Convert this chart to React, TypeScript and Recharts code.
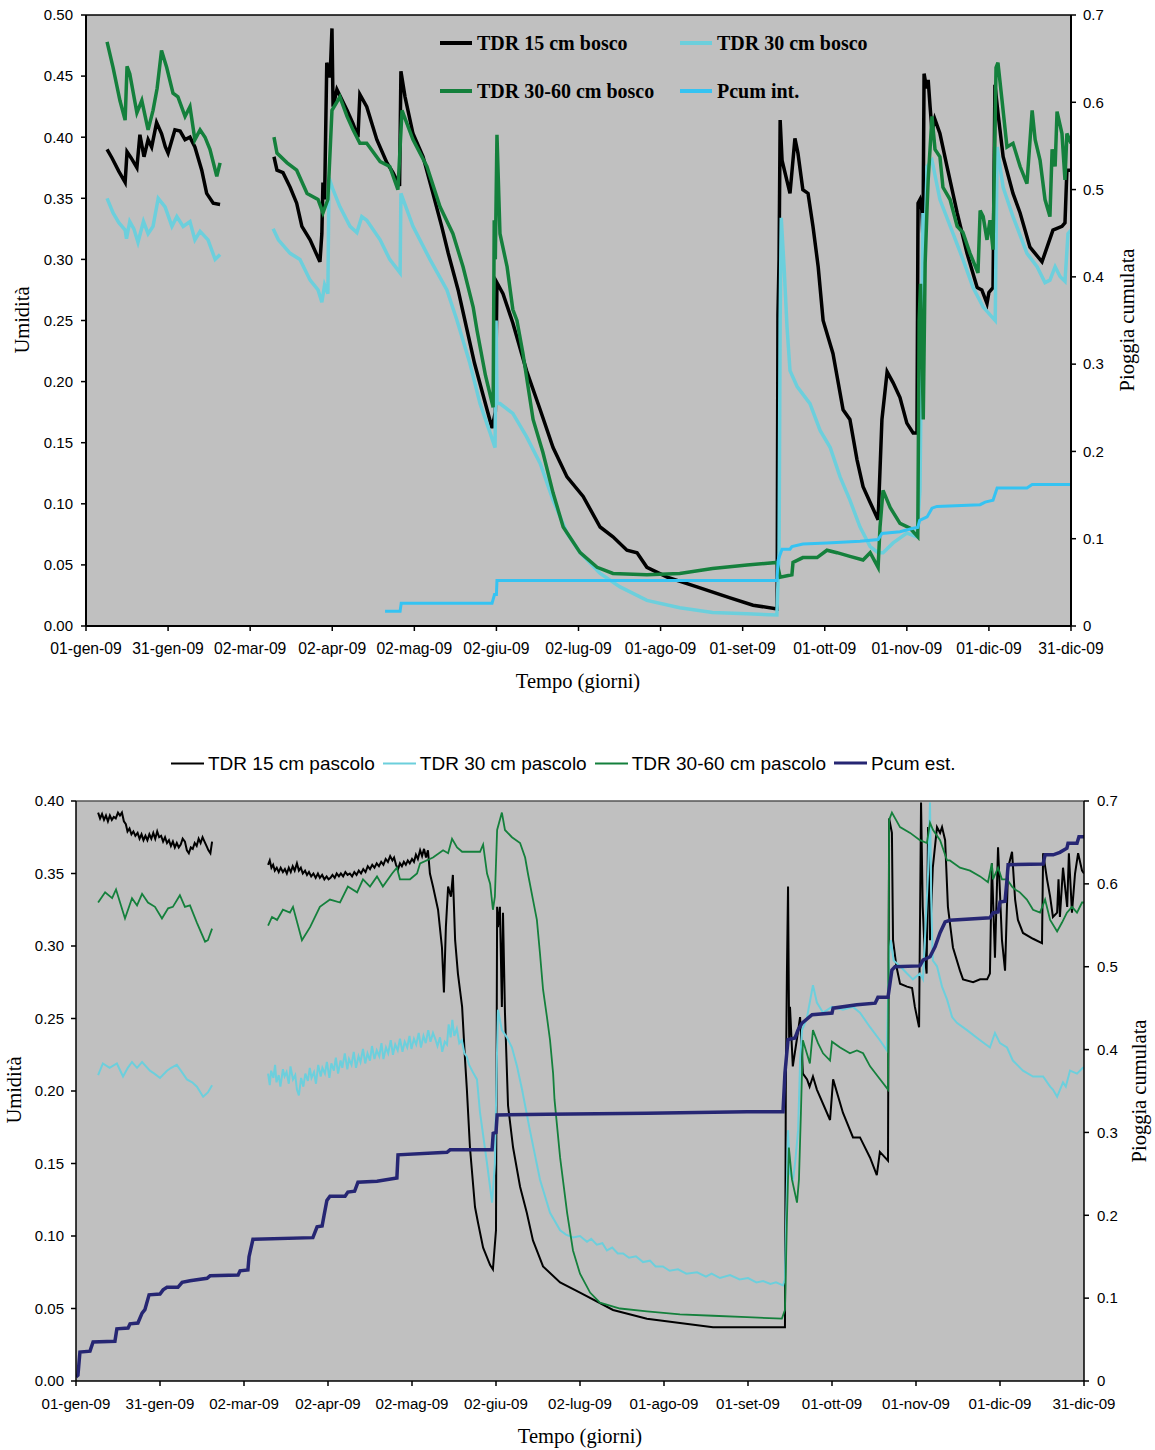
import React from 'react';
import { LineChart, Line, XAxis, YAxis, CartesianGrid, ReferenceLine } from 'recharts';

type Pt = [number, number | null];

// ---- axes ----
const DAY_TICKS = [0, 30, 60, 90, 120, 150, 180, 210, 240, 270, 300, 330, 360];
const DAY_LABELS = [
  '01-gen-09', '31-gen-09', '02-mar-09', '02-apr-09', '02-mag-09', '02-giu-09', '02-lug-09',
  '01-ago-09', '01-set-09', '01-ott-09', '01-nov-09', '01-dic-09', '31-dic-09',
];
const UMID_TICKS_BOSCO = [0, 0.05, 0.1, 0.15, 0.2, 0.25, 0.3, 0.35, 0.4, 0.45, 0.5];
const UMID_TICKS_PASCOLO = [0, 0.05, 0.1, 0.15, 0.2, 0.25, 0.3, 0.35, 0.4];
const PIOGGIA_TICKS = [0, 0.1, 0.2, 0.3, 0.4, 0.5, 0.6, 0.7];

// ---- bosco (day of year, volumetric water content) ----
const BOSCO_15: Pt[] = [
  [7.7, 0.39], [9.5, 0.383], [12, 0.372], [14.3, 0.363], [15, 0.388], [16.5, 0.383], [18.6, 0.375],
  [19.7, 0.402], [21.2, 0.384], [22.7, 0.398], [24, 0.392], [25.8, 0.412], [27.6, 0.403], [29, 0.392],
  [30, 0.387], [32.5, 0.406], [34.4, 0.405], [36.2, 0.398], [38, 0.4], [39.8, 0.392], [42.3, 0.373],
  [44.1, 0.354], [46.5, 0.346], [49, 0.345],
  [58, null],
  [68.7, 0.384], [69.8, 0.373], [72, 0.371], [74.6, 0.359], [77, 0.346], [78.9, 0.327], [81.9, 0.316],
  [85.5, 0.298], [86.2, 0.321], [86.6, 0.363], [87.2, 0.349], [88, 0.461], [89.2, 0.449], [89.9, 0.489],
  [90.3, 0.425], [91.7, 0.439], [95.4, 0.422], [97.6, 0.411], [99.4, 0.4], [100.1, 0.435], [102.6, 0.425],
  [106.3, 0.398], [110, 0.379], [112.2, 0.371], [114.6, 0.36], [115.1, 0.454], [116.6, 0.433],
  [119.5, 0.403], [123.2, 0.384], [126.8, 0.354], [130, 0.327], [132.4, 0.305], [136, 0.275],
  [139.3, 0.242], [142, 0.215], [145, 0.19], [148.4, 0.162], [149.6, 0.175], [150.2, 0.281],
  [152.4, 0.272], [156, 0.248], [161, 0.209], [166, 0.177], [170.7, 0.146], [175.8, 0.122],
  [181.7, 0.106], [187.9, 0.081], [192.6, 0.073], [197.7, 0.062], [201.4, 0.06], [205, 0.048],
  [212.4, 0.04], [223.3, 0.032], [235.4, 0.023], [243.8, 0.017], [252.6, 0.014], [252.9, 0.255],
  [253.3, 0.3], [253.7, 0.414], [254.4, 0.381], [257.3, 0.354], [259.1, 0.399], [260.2, 0.387],
  [262, 0.357], [263.9, 0.354], [265.7, 0.327], [267.6, 0.294], [269.4, 0.25], [273, 0.223],
  [276.7, 0.177], [279.2, 0.169], [281.8, 0.136], [284, 0.114], [286.6, 0.101], [289.5, 0.087],
  [290.9, 0.169], [292.8, 0.208], [295, 0.199], [297.5, 0.187], [300, 0.166], [302.3, 0.158],
  [303.7, 0.158], [304.1, 0.346], [304.8, 0.349], [305.5, 0.34], [305.9, 0.316], [306.3, 0.452],
  [307.2, 0.44], [307.8, 0.447], [308.5, 0.425], [309.2, 0.405], [310.2, 0.415], [312.1, 0.403],
  [314.7, 0.376], [318.4, 0.338], [322, 0.305], [325.7, 0.277], [327.4, 0.275], [329.3, 0.264],
  [330, 0.273], [331.5, 0.277], [332.2, 0.443], [333.3, 0.42], [335.2, 0.384], [338.8, 0.354],
  [341.4, 0.338], [345, 0.31], [349.4, 0.298], [353.4, 0.324], [356.7, 0.327], [357.8, 0.33],
  [358.5, 0.373], [360, 0.373],
];

const BOSCO_30: Pt[] = [
  [7.7, 0.35], [9.9, 0.338], [12, 0.33], [14.3, 0.324], [14.8, 0.317], [16, 0.331], [17.5, 0.325],
  [19, 0.314], [21, 0.331], [22.7, 0.321], [24.5, 0.327], [26.4, 0.35], [28.9, 0.343], [31.4, 0.327],
  [33.2, 0.335], [35.5, 0.327], [38, 0.331], [39.8, 0.316], [41.7, 0.323], [44.6, 0.316], [47.2, 0.3],
  [49, 0.304],
  [58, null],
  [68.4, 0.325], [70.3, 0.316], [74.6, 0.305], [78.2, 0.3], [81.9, 0.283], [84.8, 0.275], [86.2, 0.265],
  [87.2, 0.279], [88.4, 0.272], [88.8, 0.367], [90.3, 0.357], [92.8, 0.343], [96.5, 0.327], [99, 0.322],
  [100.8, 0.335], [102.6, 0.332], [107.5, 0.316], [111, 0.3], [114.8, 0.289], [115.1, 0.354],
  [119.5, 0.327], [125.7, 0.3], [131.9, 0.275], [135.6, 0.25], [140.3, 0.215], [144, 0.182],
  [147.7, 0.158], [149.5, 0.146], [149.9, 0.25], [150.2, 0.182], [151.3, 0.182], [156, 0.174],
  [161, 0.155], [166, 0.133], [170.7, 0.103], [175.8, 0.076], [180.6, 0.06], [187.9, 0.043],
  [195.2, 0.032], [205, 0.021], [217, 0.015], [229, 0.011], [241.6, 0.01], [252.5, 0.009],
  [253.3, 0.06], [253.7, 0.25], [254.1, 0.334], [255.2, 0.291], [256.2, 0.245], [257.3, 0.209],
  [259.9, 0.196], [264.6, 0.182], [268.3, 0.16], [272, 0.146], [275.6, 0.122], [279.2, 0.103],
  [282.9, 0.081], [286.6, 0.065], [289.5, 0.06], [291.3, 0.06], [295, 0.068], [300, 0.076],
  [303.7, 0.073], [304.8, 0.111], [305.9, 0.338], [306.5, 0.3], [307.4, 0.376], [309.2, 0.381],
  [312.1, 0.349], [316.9, 0.321], [320.5, 0.3], [324.2, 0.277], [327.9, 0.261], [331.1, 0.253],
  [332.3, 0.25], [333, 0.392], [335.2, 0.359], [338.8, 0.335], [343.9, 0.305], [347.6, 0.294],
  [350.5, 0.281], [352.3, 0.283], [354.2, 0.294], [356, 0.286], [357.8, 0.282], [358.9, 0.321],
  [360, 0.324],
];

const BOSCO_3060: Pt[] = [
  [7.7, 0.478], [9.9, 0.457], [12.4, 0.43], [14.3, 0.414], [15, 0.458], [16, 0.452], [18.6, 0.42],
  [20.4, 0.43], [22.7, 0.406], [24.5, 0.422], [26, 0.44], [27.6, 0.471], [29.5, 0.457], [31.8, 0.436],
  [33.6, 0.433], [36.2, 0.417], [38, 0.425], [39.8, 0.398], [41.7, 0.406], [43.5, 0.4], [45.3, 0.39],
  [47.8, 0.368], [49, 0.379],
  [58, null],
  [68.7, 0.4], [69.8, 0.387], [73.5, 0.379], [77, 0.373], [80.8, 0.354], [84.8, 0.349], [86.6, 0.338],
  [88.4, 0.349], [89.9, 0.422], [92.8, 0.433], [95.4, 0.417], [97.6, 0.406], [100.1, 0.395],
  [102.6, 0.395], [107.5, 0.38], [111, 0.376], [114, 0.357], [115.5, 0.422], [119.5, 0.398],
  [124.6, 0.376], [129.4, 0.343], [134.1, 0.321], [137.8, 0.294], [141.5, 0.261], [142.9, 0.242],
  [146, 0.205], [148.8, 0.179], [149.2, 0.332], [149.6, 0.3], [150.2, 0.402], [151.3, 0.321],
  [153.9, 0.294], [156, 0.259], [157.5, 0.25], [159.7, 0.223], [163.4, 0.169], [167, 0.142],
  [170.7, 0.109], [174.4, 0.081], [180.6, 0.06], [186.8, 0.048], [192.6, 0.043], [205, 0.042],
  [217, 0.043], [229, 0.047], [241.6, 0.05], [252.5, 0.052], [253.7, 0.04], [258, 0.042],
  [258.4, 0.052], [262, 0.056], [267.2, 0.056], [270.8, 0.062], [274.5, 0.06], [279.2, 0.057],
  [284, 0.054], [286.6, 0.06], [289.5, 0.048], [290.2, 0.081], [291.3, 0.111], [293.9, 0.097],
  [297.5, 0.084], [301.2, 0.08], [304, 0.073], [304.5, 0.25], [305, 0.28], [305.6, 0.22], [306, 0.169],
  [306.7, 0.297], [307.4, 0.343], [307.8, 0.365], [309.2, 0.417], [310.3, 0.39], [312.1, 0.384],
  [313.2, 0.359], [315.8, 0.349], [318.4, 0.327], [320.5, 0.322], [323.1, 0.305], [326, 0.289],
  [326.8, 0.34], [327.9, 0.335], [329.3, 0.316], [330.4, 0.332], [331.5, 0.308], [332.6, 0.457],
  [333.3, 0.461], [334.8, 0.43], [336.6, 0.392], [338.8, 0.395], [341.4, 0.376], [343.9, 0.362],
  [345.8, 0.422], [346.9, 0.398], [348.7, 0.381], [350.5, 0.349], [352.3, 0.335], [353.1, 0.39],
  [354.2, 0.376], [354.9, 0.421], [356.7, 0.403], [357.8, 0.365], [358.5, 0.403], [360, 0.395],
];

// cumulative rainfall under canopy (right axis)
const PCUM_INT: Pt[] = [
  [109.3, 0.017], [114.8, 0.017], [115.2, 0.026], [148.4, 0.026], [149.3, 0.036], [150, 0.036],
  [150.2, 0.052], [252.5, 0.052], [253, 0.076], [254.4, 0.088], [257.3, 0.088], [258, 0.091],
  [262, 0.094], [270.8, 0.095], [282.9, 0.097], [289.5, 0.099], [290.9, 0.106], [297.5, 0.108],
  [302.3, 0.112], [304, 0.113], [304.7, 0.121], [307.4, 0.125], [309.2, 0.135], [311, 0.137],
  [326.8, 0.139], [328.6, 0.142], [331.5, 0.144], [333, 0.158], [343.9, 0.158], [345.8, 0.162],
  [360, 0.162],
];

// ---- pascolo ----
const PASCOLO_15: Pt[] = [
  [7.9, 0.392], [8.6, 0.388], [9.3, 0.391], [10, 0.387], [10.7, 0.39], [11.4, 0.386], [12.1, 0.39],
  [12.8, 0.387], [13.5, 0.389], [14.2, 0.388], [15, 0.392], [15.7, 0.39], [16.4, 0.392], [17.1, 0.386],
  [17.8, 0.384], [18.4, 0.379], [19.1, 0.381], [19.8, 0.377], [20.5, 0.379], [21.2, 0.376], [22, 0.378],
  [22.7, 0.374], [23.4, 0.377], [24.1, 0.373], [24.8, 0.376], [25.5, 0.373], [26.2, 0.377], [26.9, 0.374],
  [27.6, 0.378], [28.3, 0.374], [29, 0.379], [29.7, 0.375], [30.4, 0.376], [31.1, 0.372], [31.8, 0.375],
  [32.5, 0.371], [33.2, 0.373], [33.9, 0.369], [34.6, 0.372], [35.3, 0.368], [36, 0.371], [36.7, 0.368],
  [37.4, 0.37], [38.1, 0.374], [38.9, 0.372], [39.6, 0.366], [40.3, 0.364], [41, 0.368], [41.7, 0.367],
  [42.4, 0.371], [43.1, 0.369], [43.8, 0.374], [44.5, 0.371], [45.2, 0.375], [45.9, 0.372], [46.6, 0.369],
  [47.3, 0.366], [48, 0.364], [48.6, 0.372],
  [58, null],
  [68.6, 0.356], [69.2, 0.359], [69.8, 0.354], [70.4, 0.356], [71, 0.352], [71.7, 0.354], [72.4, 0.351],
  [73.1, 0.354], [73.9, 0.351], [74.6, 0.353], [75.3, 0.35], [76, 0.354], [76.7, 0.351], [77.4, 0.355],
  [78.1, 0.352], [78.9, 0.357], [79.6, 0.352], [80.3, 0.354], [81, 0.35], [81.8, 0.352], [82.5, 0.349],
  [83.2, 0.351], [84, 0.348], [84.8, 0.35], [85.6, 0.347], [86.4, 0.35], [87.1, 0.347], [87.9, 0.349],
  [88.7, 0.346], [89.5, 0.348], [90.2, 0.346], [90.9, 0.347], [91.6, 0.349], [92.4, 0.347], [93.1, 0.35],
  [93.9, 0.348], [94.6, 0.35], [95.4, 0.348], [96.2, 0.351], [97, 0.349], [97.8, 0.35], [98.6, 0.348],
  [99.4, 0.351], [100.2, 0.349], [101, 0.352], [101.8, 0.35], [102.6, 0.353], [103.4, 0.351],
  [104.2, 0.355], [105, 0.353], [105.8, 0.356], [106.6, 0.354], [107.4, 0.357], [108.2, 0.355],
  [109, 0.358], [109.8, 0.356], [110.6, 0.36], [111.4, 0.358], [112.2, 0.362], [113, 0.359],
  [113.6, 0.361], [114.3, 0.356], [115, 0.353], [115.7, 0.357], [116.4, 0.355], [117.1, 0.358],
  [117.8, 0.356], [118.5, 0.359], [119.2, 0.357], [120, 0.36], [120.7, 0.358], [121.4, 0.363],
  [122.1, 0.36], [122.9, 0.366], [123.6, 0.362], [124.3, 0.367], [125, 0.361], [125.7, 0.366],
  [126.4, 0.35], [127.5, 0.341], [129.3, 0.325], [130.7, 0.299], [131.4, 0.268], [132.1, 0.313],
  [132.9, 0.341], [133.9, 0.334], [134.6, 0.349], [135.4, 0.304], [136.4, 0.281], [137.9, 0.258],
  [138.9, 0.223], [139.6, 0.201], [140.7, 0.161], [142.5, 0.12], [143.6, 0.109], [145.4, 0.092],
  [147.9, 0.08], [148.9, 0.077], [150, 0.104], [150.4, 0.327], [150.7, 0.313], [151.4, 0.327],
  [152.1, 0.258], [152.5, 0.323], [153.2, 0.254], [154.3, 0.19], [156.1, 0.161], [158.6, 0.134],
  [161, 0.116], [163.2, 0.097], [166.8, 0.079], [172.9, 0.068], [180, 0.061], [191.8, 0.049],
  [203.9, 0.043], [215.7, 0.04], [227.5, 0.037], [239.6, 0.037], [253.2, 0.037], [253.5, 0.2],
  [253.9, 0.281], [254.3, 0.341], [254.7, 0.235], [255, 0.258], [256, 0.217], [257.4, 0.235],
  [258.6, 0.251], [259.6, 0.212], [261.1, 0.208], [262, 0.203], [263.2, 0.21], [264.6, 0.201],
  [269.3, 0.18], [270.4, 0.208], [273.9, 0.185], [277.5, 0.168], [280, 0.168], [283.6, 0.154],
  [286, 0.142], [287.1, 0.158], [290, 0.152], [290.4, 0.388], [291.4, 0.378], [291.8, 0.304],
  [293, 0.286], [294.3, 0.274], [296.8, 0.272], [298.6, 0.271], [299.6, 0.258], [301.1, 0.244],
  [301.8, 0.399], [302.4, 0.327], [303.2, 0.292], [303.8, 0.281], [304.3, 0.382], [305, 0.304],
  [306, 0.354], [307.5, 0.382], [308.6, 0.378], [309.3, 0.382], [310.4, 0.373], [311.4, 0.327],
  [313.2, 0.299], [315.7, 0.283], [316.8, 0.277], [320.4, 0.275], [322.9, 0.277], [325.4, 0.277],
  [326.4, 0.281], [327.1, 0.357], [328.2, 0.292], [329.3, 0.368], [330.7, 0.304], [331.8, 0.283],
  [332.9, 0.354], [334.3, 0.365], [335.4, 0.332], [336.4, 0.318], [338.2, 0.309], [341.8, 0.305],
  [345, 0.302], [345.4, 0.364], [346.8, 0.346], [347.9, 0.334], [348.9, 0.32], [350.4, 0.323],
  [350.9, 0.346], [351.4, 0.32], [352.5, 0.354], [354, 0.327], [354.6, 0.364], [355.7, 0.323],
  [356.8, 0.35], [357.9, 0.364], [359.3, 0.352], [360, 0.35],
];

const PASCOLO_30: Pt[] = [
  [7.9, 0.211], [9.6, 0.219], [12, 0.216], [14.6, 0.219], [16.8, 0.21], [18.5, 0.216], [20, 0.22],
  [21.8, 0.216], [23.6, 0.22], [26.4, 0.214], [28, 0.212], [30, 0.209], [32.5, 0.214], [34, 0.216],
  [36, 0.218], [38.2, 0.212], [39.6, 0.208], [41.5, 0.206], [43.2, 0.203], [45.4, 0.196], [47.1, 0.199],
  [48.6, 0.204],
  [58, null],
  [68.6, 0.212], [69.2, 0.204], [69.7, 0.214], [70.5, 0.209], [71.1, 0.218], [71.6, 0.206], [72.4, 0.211],
  [73, 0.203], [73.9, 0.215], [74.5, 0.21], [75.2, 0.213], [76, 0.205], [76.6, 0.217], [77.5, 0.208],
  [78.3, 0.211], [78.9, 0.201], [79.6, 0.197], [80.4, 0.209], [81.2, 0.203], [81.9, 0.212], [82.8, 0.207],
  [83.5, 0.216], [84.1, 0.209], [85, 0.213], [85.7, 0.205], [86.5, 0.218], [87.4, 0.21], [88, 0.216],
  [88.9, 0.212], [89.6, 0.22], [90.5, 0.209], [91.2, 0.219], [92.1, 0.214], [92.8, 0.223], [93.6, 0.212],
  [94.5, 0.221], [95.1, 0.216], [96, 0.226], [96.9, 0.215], [97.5, 0.222], [98.4, 0.218], [99.2, 0.227],
  [100, 0.216], [100.9, 0.224], [101.6, 0.22], [102.5, 0.229], [103.3, 0.219], [104.1, 0.226],
  [105, 0.221], [105.7, 0.231], [106.6, 0.222], [107.4, 0.228], [108.3, 0.224], [109.1, 0.233],
  [109.8, 0.222], [110.7, 0.23], [111.5, 0.226], [112.4, 0.235], [113.2, 0.225], [114, 0.232],
  [114.9, 0.228], [115.7, 0.236], [116.6, 0.227], [117.4, 0.234], [118.3, 0.23], [119.1, 0.238],
  [119.8, 0.229], [120.7, 0.236], [121.5, 0.232], [122.4, 0.24], [123.2, 0.23], [124.1, 0.238],
  [124.9, 0.233], [125.8, 0.242], [126.6, 0.234], [127.5, 0.24], [128.3, 0.236], [129.1, 0.231],
  [130, 0.237], [130.8, 0.227], [131.7, 0.234], [132.5, 0.232], [133.1, 0.246], [133.8, 0.237],
  [134.4, 0.249], [135.1, 0.238], [136, 0.243], [136.9, 0.233], [137.8, 0.235], [138.7, 0.226],
  [139.5, 0.224], [140.4, 0.218], [141.2, 0.215], [142, 0.212], [143.2, 0.208], [144.3, 0.185],
  [146.8, 0.15], [148.6, 0.123], [149.6, 0.15], [150.4, 0.23], [150.7, 0.256], [152.1, 0.242],
  [153.9, 0.237], [155.7, 0.23], [157.5, 0.217], [159.3, 0.201], [162.1, 0.173], [165.7, 0.139],
  [169.3, 0.116], [172.9, 0.104], [175, 0.101], [177.5, 0.099], [180, 0.1], [182.5, 0.096], [184, 0.098],
  [186, 0.094], [188, 0.095], [189.6, 0.09], [191.5, 0.092], [193.5, 0.088], [195.4, 0.088],
  [197.5, 0.085], [200, 0.086], [202.5, 0.082], [205, 0.083], [207, 0.079], [209.6, 0.079], [212, 0.076],
  [215, 0.077], [218, 0.074], [221.8, 0.075], [225, 0.072], [227, 0.074], [230, 0.071], [233.6, 0.073],
  [237, 0.07], [240, 0.071], [243, 0.068], [245.4, 0.069], [248, 0.067], [250, 0.068], [252.5, 0.066],
  [253.2, 0.07], [254.3, 0.173], [255, 0.143], [256.1, 0.139], [256.8, 0.15], [257.9, 0.173],
  [258.6, 0.22], [259.3, 0.242], [261, 0.25], [263.2, 0.273], [264.6, 0.261], [266.8, 0.254],
  [270, 0.258], [273.9, 0.256], [277.5, 0.258], [280, 0.254], [283.6, 0.244], [287.1, 0.235],
  [289.6, 0.228], [290.4, 0.295], [291, 0.304], [292, 0.29], [294.3, 0.286], [296.8, 0.281],
  [298.9, 0.277], [301.4, 0.281], [302.5, 0.277], [304.3, 0.35], [305, 0.399], [305.5, 0.327],
  [306, 0.29], [307.5, 0.286], [309.3, 0.272], [311.1, 0.263], [312.9, 0.251], [314.6, 0.247],
  [318.2, 0.242], [322.9, 0.235], [326.4, 0.23], [328.2, 0.24], [330, 0.233], [332.5, 0.23],
  [334.6, 0.221], [338.2, 0.214], [341.8, 0.21], [345.4, 0.21], [347.9, 0.203], [348.9, 0.201],
  [350.4, 0.196], [352.5, 0.206], [353.5, 0.203], [355, 0.214], [357.5, 0.212], [359.6, 0.216],
  [360, 0.216],
];

const PASCOLO_3060: Pt[] = [
  [7.9, 0.33], [10.4, 0.337], [12.9, 0.333], [14.3, 0.339], [17.5, 0.319], [20, 0.333], [21.8, 0.328],
  [23.6, 0.336], [25.7, 0.33], [28.2, 0.327], [30.7, 0.319], [32.9, 0.326], [34.6, 0.327], [37.1, 0.335],
  [38.9, 0.327], [40.7, 0.328], [43.2, 0.316], [46.1, 0.303], [47.1, 0.304], [48.6, 0.312],
  [58, null],
  [68.6, 0.314], [70, 0.32], [71.8, 0.318], [73.9, 0.325], [76.4, 0.323], [77.5, 0.327], [80.7, 0.304],
  [83.6, 0.313], [87.1, 0.327], [90.7, 0.332], [94.3, 0.33], [97.1, 0.341], [100.4, 0.337],
  [102.5, 0.346], [105, 0.341], [107.5, 0.348], [109.6, 0.341], [112.9, 0.35], [114.6, 0.354],
  [115.7, 0.346], [119.3, 0.346], [121.8, 0.35], [122.9, 0.357], [127.5, 0.361], [131.1, 0.366],
  [132.9, 0.364], [134.3, 0.374], [136.1, 0.368], [137.9, 0.365], [144.3, 0.365], [145.4, 0.37],
  [146.8, 0.35], [147.9, 0.343], [148.9, 0.325], [149.6, 0.334], [150.4, 0.38], [152.1, 0.392],
  [153.2, 0.38], [155.7, 0.375], [158.6, 0.371], [160.4, 0.361], [161.4, 0.35], [163.2, 0.332],
  [164.6, 0.318], [165.7, 0.295], [166.8, 0.27], [168.2, 0.251], [169.3, 0.235], [170.4, 0.212],
  [170.9, 0.194], [172.9, 0.154], [175.4, 0.116], [177.5, 0.09], [180, 0.074], [183.6, 0.061],
  [187.1, 0.054], [194.3, 0.05], [203.9, 0.048], [215.7, 0.046], [227.5, 0.045], [239.6, 0.044],
  [252.1, 0.043], [253.2, 0.049], [253.9, 0.111], [254.6, 0.161], [255.7, 0.139], [257.5, 0.123],
  [258.2, 0.139], [258.9, 0.185], [259.6, 0.235], [261, 0.226], [262.1, 0.219], [263.2, 0.242],
  [265, 0.233], [266.8, 0.226], [269.3, 0.221], [270, 0.234], [272.9, 0.23], [276.4, 0.226],
  [278.9, 0.228], [281.1, 0.226], [283.6, 0.217], [286.4, 0.21], [290, 0.201], [290.4, 0.387],
  [291.4, 0.392], [294.3, 0.382], [297.9, 0.378], [301.4, 0.373], [303.9, 0.371], [305, 0.385],
  [306.1, 0.38], [308.6, 0.373], [311.1, 0.359], [312.1, 0.359], [315.7, 0.354], [319.3, 0.352],
  [322.9, 0.348], [325.7, 0.344], [327.1, 0.357], [327.5, 0.346], [329.3, 0.354], [330.7, 0.346],
  [332.5, 0.346], [334.3, 0.341], [335.4, 0.339], [337.1, 0.337], [339.6, 0.332], [341.8, 0.325],
  [344.3, 0.323], [346.1, 0.332], [347.9, 0.318], [350.4, 0.31], [352.1, 0.316], [353.9, 0.323],
  [355.7, 0.327], [357.5, 0.323], [359.3, 0.33], [360, 0.33],
];

// cumulative rainfall in the open (right axis)
const PCUM_EST: Pt[] = [
  [0, 0.005], [0.7, 0.007], [1.4, 0.035], [5, 0.036], [6.1, 0.047], [13.9, 0.048], [14.6, 0.063],
  [18.6, 0.064], [19.3, 0.069], [22.1, 0.07], [23.6, 0.082], [24.6, 0.086], [26.1, 0.104], [30, 0.105],
  [31.1, 0.11], [32.5, 0.113], [36.4, 0.113], [37.9, 0.119], [40.7, 0.121], [46.8, 0.124], [47.9, 0.127],
  [57.9, 0.128], [58.6, 0.133], [61.4, 0.134], [61.8, 0.15], [63.2, 0.171], [84.6, 0.173], [86.1, 0.186],
  [87.9, 0.187], [88.6, 0.2], [89.6, 0.218], [90.7, 0.223], [96.1, 0.223], [97.1, 0.228], [99.5, 0.229],
  [100.7, 0.24], [107.5, 0.241], [114.6, 0.245], [115, 0.273], [132.5, 0.276], [133.6, 0.279],
  [148.6, 0.279], [149, 0.299], [150, 0.3], [150.4, 0.321], [168.2, 0.322], [203.9, 0.323],
  [239.6, 0.325], [252.5, 0.325], [253.2, 0.372], [254.3, 0.412], [256.8, 0.414], [257.9, 0.424],
  [259.3, 0.432], [262.9, 0.442], [270, 0.444], [270.4, 0.45], [278.9, 0.454], [285.4, 0.456],
  [286.4, 0.463], [290, 0.463], [291.4, 0.496], [292.5, 0.5], [301.4, 0.501], [302.5, 0.508],
  [305, 0.512], [306.8, 0.524], [308.6, 0.541], [310.4, 0.554], [312.1, 0.556], [326.4, 0.559],
  [327.5, 0.565], [329.3, 0.566], [330, 0.578], [331.8, 0.579], [332.5, 0.605], [332.9, 0.623],
  [345.4, 0.624], [346.1, 0.635], [349, 0.635], [351.4, 0.638], [353.9, 0.643], [354.3, 0.649],
  [357.5, 0.649], [358.2, 0.657], [360, 0.657],
];

// ---- styling ----
const C_BLACK = '#000000';
const C_CYAN = '#6ccfdc';
const C_GREEN = '#14803c';
const C_PCUM_INT = '#35c3f2';
const C_PCUM_EST = '#262673';
const PLOT_BG = '#c0c0c0';
const SANS = '"Liberation Sans", Arial, sans-serif';
const SERIF = '"Liberation Serif", "Times New Roman", serif';

const toRows = (pts: Pt[]) => pts.map(([d, v]) => ({ d, v }));
const fmtDay = (d: number) => DAY_LABELS[DAY_TICKS.indexOf(d)] ?? '';
const fmtUmid = (v: number) => v.toFixed(2);
const fmtPioggia = (v: number) => (v === 0 ? '0' : v.toFixed(1));

const RotTitle = ({ x, y, text }: { x: number; y: number; text: string }) => (
  <div
    style={{
      position: 'absolute', left: x, top: y, whiteSpace: 'nowrap',
      transform: 'translate(-50%, -50%) rotate(-90deg)',
      fontFamily: SERIF, fontSize: 20.5, color: '#000', lineHeight: 1,
    }}
  >
    {text}
  </div>
);

const FlatTitle = ({ x, y, text }: { x: number; y: number; text: string }) => (
  <div
    style={{
      position: 'absolute', left: x, top: y, whiteSpace: 'nowrap',
      transform: 'translate(-50%, -50%)',
      fontFamily: SERIF, fontSize: 20.5, color: '#000', lineHeight: 1,
    }}
  >
    {text}
  </div>
);

const LegendItem = ({
  color, width, label, font, size, bold, lineLen, gap,
}: {
  color: string; width: number; label: string; font: string; size: number; bold?: boolean;
  lineLen: number; gap: number;
}) => (
  <div style={{ display: 'flex', alignItems: 'center', whiteSpace: 'nowrap' }}>
    <div style={{ width: lineLen, height: width, background: color, marginRight: gap }} />
    <span style={{ fontFamily: font, fontSize: size, fontWeight: bold ? 700 : 400, color: '#000', lineHeight: 1 }}>
      {label}
    </span>
  </div>
);

const BOSCO_LEGEND = [
  { label: 'TDR 15 cm bosco', color: C_BLACK, left: 440, top: 43 },
  { label: 'TDR 30 cm bosco', color: C_CYAN, left: 680, top: 43 },
  { label: 'TDR 30-60 cm bosco', color: C_GREEN, left: 440, top: 91 },
  { label: 'Pcum int.', color: C_PCUM_INT, left: 680, top: 91 },
];

const PASCOLO_LEGEND = [
  { label: 'TDR 15 cm pascolo', color: C_BLACK, w: 2 },
  { label: 'TDR 30 cm pascolo', color: C_CYAN, w: 2 },
  { label: 'TDR 30-60 cm pascolo', color: C_GREEN, w: 2 },
  { label: 'Pcum est.', color: C_PCUM_EST, w: 3.5 },
];

const tickStyle = (size: number) => ({ fill: '#000', fontSize: size, fontFamily: SANS });

export default function App() {
  return (
    <div style={{ position: 'absolute', left: 0, top: 0, width: 1155, height: 1450, background: '#fff', overflow: 'hidden' }}>
      {/* Bosco */}
      <div style={{ position: 'absolute', left: 0, top: 0 }}>
        <LineChart width={1155} height={700} margin={{ top: 15, right: 0, bottom: 0, left: 0 }}>
          <CartesianGrid fill={PLOT_BG} fillOpacity={1} horizontal={false} vertical={false} />
          <XAxis
            type="number" dataKey="d" domain={[0, 360]} ticks={DAY_TICKS} interval={0} allowDataOverflow
            tickFormatter={fmtDay} height={74} tickSize={5} tickMargin={12}
            axisLine={{ stroke: '#000', strokeWidth: 2 }} tickLine={{ stroke: '#000', strokeWidth: 1.5 }}
            tick={tickStyle(15.7)}
          />
          <YAxis
            yAxisId="u" orientation="left" width={86} domain={[0, 0.5]} ticks={UMID_TICKS_BOSCO} interval={0}
            allowDataOverflow tickFormatter={fmtUmid} tickSize={5} tickMargin={8}
            axisLine={{ stroke: '#000', strokeWidth: 2 }} tickLine={{ stroke: '#000', strokeWidth: 1.5 }}
            tick={tickStyle(15)}
          />
          <YAxis
            yAxisId="p" orientation="right" width={84} domain={[0, 0.7]} ticks={PIOGGIA_TICKS} interval={0}
            allowDataOverflow tickFormatter={fmtPioggia} tickSize={5} tickMargin={7}
            axisLine={{ stroke: '#000', strokeWidth: 2 }} tickLine={{ stroke: '#000', strokeWidth: 1.5 }}
            tick={tickStyle(15)}
          />
          <ReferenceLine yAxisId="u" y={0.5} stroke="#000" strokeWidth={1.5} />
          <Line yAxisId="u" data={toRows(BOSCO_15)} dataKey="v" stroke={C_BLACK} strokeWidth={3.5} dot={false} isAnimationActive={false} />
          <Line yAxisId="u" data={toRows(BOSCO_30)} dataKey="v" stroke={C_CYAN} strokeWidth={3.5} dot={false} isAnimationActive={false} />
          <Line yAxisId="u" data={toRows(BOSCO_3060)} dataKey="v" stroke={C_GREEN} strokeWidth={3.5} dot={false} isAnimationActive={false} />
          <Line yAxisId="p" data={toRows(PCUM_INT)} dataKey="v" stroke={C_PCUM_INT} strokeWidth={3} dot={false} isAnimationActive={false} />
        </LineChart>
      </div>
      {BOSCO_LEGEND.map((it) => (
        <div key={it.label} style={{ position: 'absolute', left: it.left, top: it.top, transform: 'translateY(-50%)' }}>
          <LegendItem color={it.color} width={3.5} label={it.label} font={SERIF} size={20} bold lineLen={32} gap={5} />
        </div>
      ))}
      <RotTitle x={22} y={320} text="Umidità" />
      <RotTitle x={1127} y={320} text="Pioggia cumulata" />
      <FlatTitle x={578} y={681} text="Tempo (giorni)" />

      {/* Pascolo */}
      <div style={{ position: 'absolute', left: 0, top: 720 }}>
        <LineChart width={1155} height={730} margin={{ top: 81, right: 0, bottom: 0, left: 0 }}>
          <CartesianGrid fill={PLOT_BG} fillOpacity={1} horizontal={false} vertical={false} />
          <XAxis
            type="number" dataKey="d" domain={[0, 360]} ticks={DAY_TICKS} interval={0} allowDataOverflow
            tickFormatter={fmtDay} height={69} tickSize={5} tickMargin={12}
            axisLine={{ stroke: '#000', strokeWidth: 1.5 }} tickLine={{ stroke: '#000', strokeWidth: 1.5 }}
            tick={tickStyle(15.1)}
          />
          <YAxis
            yAxisId="u" orientation="left" width={76} domain={[0, 0.4]} ticks={UMID_TICKS_PASCOLO} interval={0}
            allowDataOverflow tickFormatter={fmtUmid} tickSize={5} tickMargin={7}
            axisLine={{ stroke: '#000', strokeWidth: 1.5 }} tickLine={{ stroke: '#000', strokeWidth: 1.5 }}
            tick={tickStyle(15)}
          />
          <YAxis
            yAxisId="p" orientation="right" width={71} domain={[0, 0.7]} ticks={PIOGGIA_TICKS} interval={0}
            allowDataOverflow tickFormatter={fmtPioggia} tickSize={5} tickMargin={8}
            axisLine={{ stroke: '#000', strokeWidth: 1.5 }} tickLine={{ stroke: '#000', strokeWidth: 1.5 }}
            tick={tickStyle(15)}
          />
          <ReferenceLine yAxisId="u" y={0.4} stroke="#555" strokeWidth={1.5} />
          <Line yAxisId="u" data={toRows(PASCOLO_15)} dataKey="v" stroke={C_BLACK} strokeWidth={2} dot={false} isAnimationActive={false} />
          <Line yAxisId="u" data={toRows(PASCOLO_30)} dataKey="v" stroke={C_CYAN} strokeWidth={2} dot={false} isAnimationActive={false} />
          <Line yAxisId="u" data={toRows(PASCOLO_3060)} dataKey="v" stroke={C_GREEN} strokeWidth={1.8} dot={false} isAnimationActive={false} />
          <Line yAxisId="p" data={toRows(PCUM_EST)} dataKey="v" stroke={C_PCUM_EST} strokeWidth={3.5} dot={false} isAnimationActive={false} />
        </LineChart>
      </div>
      <div style={{ position: 'absolute', left: 171, top: 763, transform: 'translateY(-50%)', display: 'flex', gap: 8 }}>
        {PASCOLO_LEGEND.map((it) => (
          <LegendItem key={it.label} color={it.color} width={it.w} label={it.label} font={SANS} size={19} lineLen={33} gap={4} />
        ))}
      </div>
      <RotTitle x={14} y={1090} text="Umidità" />
      <RotTitle x={1139} y={1091} text="Pioggia cumulata" />
      <FlatTitle x={580} y={1436} text="Tempo (giorni)" />
    </div>
  );
}
